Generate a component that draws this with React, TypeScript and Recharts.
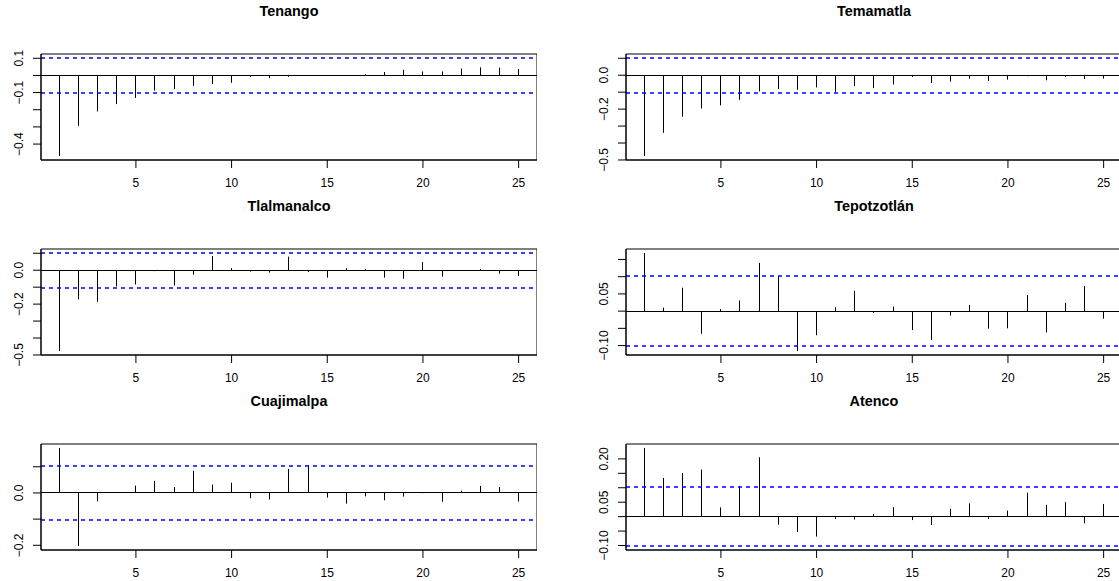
import { ComposedChart, XAxis, YAxis, Bar, ReferenceLine, ReferenceArea } from 'recharts';

const FONT = '"Liberation Sans", Arial, Helvetica, sans-serif';

const lags = [1, 2, 3, 4, 5, 6, 7, 8, 9, 10, 11, 12, 13, 14, 15, 16, 17, 18, 19, 20, 21, 22, 23, 24, 25];
const xTicks = [5, 10, 15, 20, 25];
const clim = 0.102;

const tenango = [-0.47, -0.294, -0.21, -0.167, -0.131, -0.088, -0.08, -0.061, -0.05, -0.043, -0.008, -0.016, -0.008, -0.003, -0.002, -0.003, 0.006, 0.02, 0.033, 0.023, 0.023, 0.04, 0.047, 0.045, 0.037];
const temamatla = [-0.477, -0.34, -0.245, -0.196, -0.178, -0.145, -0.096, -0.082, -0.086, -0.072, -0.098, -0.064, -0.076, -0.054, -0.01, -0.046, -0.038, -0.02, -0.034, -0.026, -0.006, -0.03, -0.01, -0.022, -0.02];
const tlalmanalco = [-0.477, -0.172, -0.186, -0.095, -0.084, -0.006, -0.09, -0.026, 0.084, 0.012, -0.008, -0.014, 0.08, -0.01, -0.044, 0.012, 0.008, -0.044, -0.05, 0.048, -0.038, -0.004, 0.008, -0.02, -0.034];
const tepotzotlan = [0.169, 0.01, 0.068, -0.066, 0.006, 0.031, 0.14, 0.102, -0.116, -0.07, 0.011, 0.059, -0.005, 0.013, -0.055, -0.084, -0.013, 0.018, -0.051, -0.05, 0.047, -0.062, 0.024, 0.073, -0.022];
const cuajimalpa = [0.172, -0.203, -0.032, 0.002, 0.028, 0.046, 0.023, 0.085, 0.032, 0.039, -0.02, -0.025, 0.092, 0.106, -0.018, -0.041, -0.013, -0.028, -0.014, -0.001, -0.034, 0.009, 0.027, 0.023, -0.033];
const atenco = [0.238, 0.134, 0.151, 0.163, 0.032, 0.105, 0.206, -0.028, -0.053, -0.069, -0.008, -0.01, 0.009, 0.033, -0.012, -0.029, 0.027, 0.046, -0.008, 0.021, 0.083, 0.041, 0.05, -0.023, 0.044];

const ticksA = [0.1, 0, -0.1, -0.2, -0.3, -0.4];
const ticksB = [0.1, 0, -0.1, -0.2, -0.3, -0.4, -0.5];
const ticksC = [0.15, 0.1, 0.05, 0, -0.05, -0.1];
const ticksD = [0.1, 0, -0.1, -0.2];
const ticksE = [0.2, 0.15, 0.1, 0.05, 0, -0.05, -0.1];

const labelsTenango = ['0.1', '−0.1', '−0.4'];
const labelsB = ['0.0', '−0.2', '−0.5'];
const labelsTepotzotlan = ['0.05', '−0.10'];
const labelsCuajimalpa = ['0.0', '−0.2'];
const labelsAtenco = ['0.20', '0.05', '−0.10'];

const PLOT_W = 496;
const PLOT_H = 106;
const Y_W = 40;
const X_H = 30;
const TOP = 20;

const panels = [
	{ title: 'Tenango', values: tenango, yTicks: ticksA, yLabels: labelsTenango, left: 41, top: 54 },
	{ title: 'Temamatla', values: temamatla, yTicks: ticksB, yLabels: labelsB, left: 626, top: 54 },
	{ title: 'Tlalmanalco', values: tlalmanalco, yTicks: ticksB, yLabels: labelsB, left: 41, top: 249 },
	{ title: 'Tepotzotlán', values: tepotzotlan, yTicks: ticksC, yLabels: labelsTepotzotlan, left: 626, top: 249 },
	{ title: 'Cuajimalpa', values: cuajimalpa, yTicks: ticksD, yLabels: labelsCuajimalpa, left: 41, top: 444 },
	{ title: 'Atenco', values: atenco, yTicks: ticksE, yLabels: labelsAtenco, left: 626, top: 444 },
];

const toNum = (s: string) => parseFloat(s.replace('−', '-'));
const crisp = (v: number) => Math.round(v - 0.5) + 0.5;

function Stem(props: any) {
	const { x, y, width, height } = props;
	if (x == null || y == null) return null;
	const cx = crisp(x + width / 2);
	return <line x1={cx} x2={cx} y1={y} y2={y + height} stroke="#000" strokeWidth={1} />;
}

const zeroLine = (p: any) => {
	const yy = crisp(p.y1);
	return <line x1={p.x1} y1={yy} x2={p.x2} y2={yy} stroke="#000000" strokeWidth={1} />;
};

// slightly heavier dashes, like the bounds in the original
const dashLine = (p: any) => {
	const yy = Math.round(p.y1);
	return (
		<line
			x1={p.x1}
			y1={yy}
			x2={p.x2}
			y2={yy}
			stroke="#0000FF"
			strokeWidth={1.6}
			strokeDasharray="4 4"
		/>
	);
};

function YTick(props: any) {
	const { x, y, payload, labels } = props;
	const label = labels.find((l: string) => Math.abs(toNum(l) - payload.value) < 1e-9);
	if (!label) return <g />;
	return (
		<text
			x={x}
			y={y}
			transform={`rotate(-90 ${x} ${y})`}
			textAnchor="middle"
			fontSize={12}
			fontFamily={FONT}
			fill="#000"
		>
			{label}
		</text>
	);
}

function AcfPanel({ title, values, yTicks, yLabels, left, top }: any) {
	const data = lags.map((lag, i) => ({ lag, acf: values[i] }));
	const lo0 = Math.min(...values, -clim);
	const hi0 = Math.max(...values, clim);
	const pad = (hi0 - lo0) * 0.04;
	const lo = lo0 - pad;
	const hi = hi0 + pad;
	return (
		<>
			<div
				style={{
					position: 'absolute',
					left,
					top: top - 51,
					width: PLOT_W,
					height: 16,
					lineHeight: '16px',
					textAlign: 'center',
					fontFamily: FONT,
					fontWeight: 'bold',
					fontSize: 14.4,
					color: '#000',
				}}
			>
				{title}
			</div>
			<div style={{ position: 'absolute', left: left - Y_W, top: top - TOP }}>
				<ComposedChart
					width={Y_W + PLOT_W}
					height={TOP + PLOT_H + X_H}
					data={data}
					margin={{ top: TOP, right: 0, bottom: 0, left: 0 }}
				>
					<XAxis
						dataKey="lag"
						type="number"
						domain={[0.04, 25.96]}
						allowDataOverflow
						ticks={xTicks}
						interval={0}
						height={X_H}
						tickSize={8}
						tickMargin={10}
						stroke="#000"
						tick={{ fill: '#000', fontSize: 12, fontFamily: FONT }}
					/>
					<YAxis
						type="number"
						domain={[lo, hi]}
						allowDataOverflow
						ticks={yTicks}
						interval={0}
						width={Y_W}
						tickSize={8}
						tickMargin={10}
						stroke="#000"
						tick={(p: any) => <YTick {...p} labels={yLabels} />}
					/>
					<ReferenceArea x1={0.04} x2={25.96} y1={lo} y2={hi} fill="none" stroke="#000" strokeWidth={1} />
					<Bar dataKey="acf" barSize={1} isAnimationActive={false} shape={Stem} />
					<ReferenceLine key="zero" y={0} shape={zeroLine} />
					<ReferenceLine key="upper" y={clim} shape={dashLine} />
					<ReferenceLine key="lower" y={-clim} shape={dashLine} />
				</ComposedChart>
			</div>
		</>
	);
}

export default function App() {
	return (
		<div
			style={{
				position: 'absolute',
				left: 0,
				top: 0,
				width: 1119,
				height: 581,
				overflow: 'hidden',
				background: '#fff',
			}}
		>
			{panels.map((p) => (
				<AcfPanel key={p.title} {...p} />
			))}
		</div>
	);
}
